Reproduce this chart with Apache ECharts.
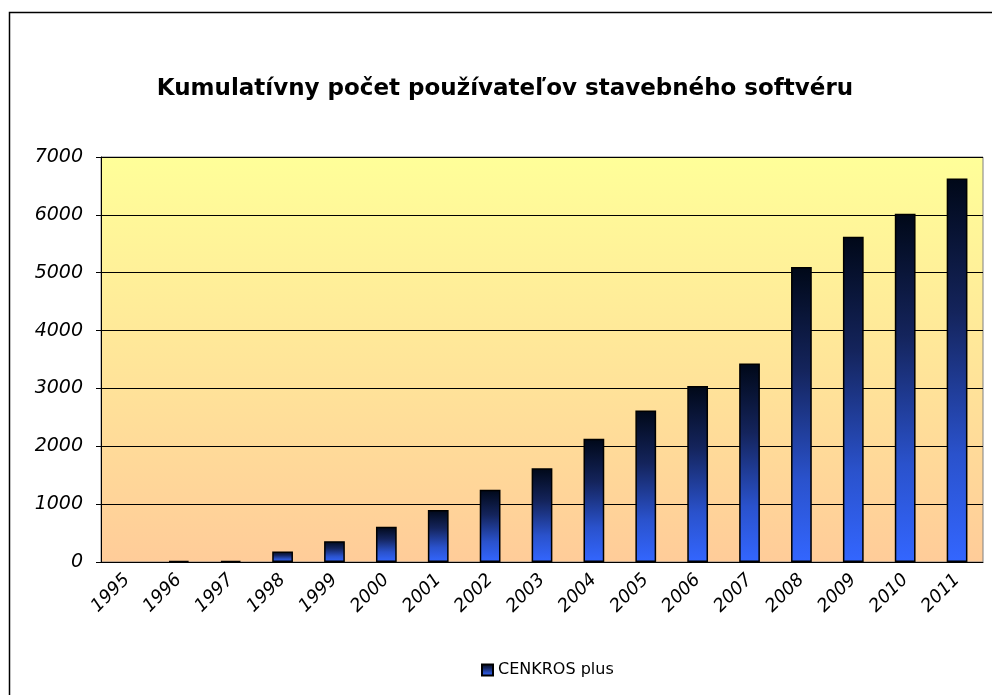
<!DOCTYPE html>
<html>
<head>
<meta charset="utf-8">
<script src="https://cdn.jsdelivr.net/npm/echarts@6/dist/echarts.min.js"></script>
<style>html,body{margin:0;padding:0;background:#fff;}#c{width:992px;height:695px;}</style>
</head>
<body>
<div id="c"></div>
<script>
const titleText = 'Kumulatívny počet používateľov stavebného softvéru';
const seriesName = 'CENKROS plus';
const years = ['1995','1996','1997','1998','1999','2000','2001','2002','2003','2004','2005','2006','2007','2008','2009','2010','2011'];
const users = [0, 20, 20, 180, 360, 610, 900, 1250, 1620, 2130, 2620, 3040, 3430, 5100, 5620, 6020, 6630];
const yTicks = { min: 0, max: 7000, interval: 1000 };

const chart = echarts.init(document.getElementById('c'));
const barGrad = new echarts.graphic.LinearGradient(0, 0, 0, 1, [
  { offset: 0, color: '#000818' },
  { offset: 0.35, color: '#14245c' },
  { offset: 0.72, color: '#2a52cc' },
  { offset: 1, color: '#3366ff' }
]);
chart.setOption({
  animation: false,
  graphic: [{
    type: 'rect', shape: { x: 9.5, y: 12.5, width: 1000, height: 700 },
    style: { fill: 'none', stroke: '#000', lineWidth: 1.5 }, silent: true
  }],
  title: {
    text: titleText, left: 500, top: 73, textAlign: 'center',
    textStyle: { fontFamily: 'DejaVu Sans', fontWeight: 'bold', fontSize: 23, color: '#000' }
  },
  legend: {
    bottom: 12, left: 476, icon: 'rect', itemWidth: 11, itemHeight: 11, itemGap: 4,
    textStyle: { fontFamily: 'DejaVu Sans', fontSize: 16, color: '#000' },
    data: [seriesName]
  },
  grid: {
    left: 101, right: 9, top: 157, bottom: 133, show: true,
    borderColor: '#808080', borderWidth: 1,
    backgroundColor: new echarts.graphic.LinearGradient(0, 0, 0, 1, [
      { offset: 0, color: '#ffff99' },
      { offset: 1, color: '#ffcc99' }
    ])
  },
  xAxis: {
    type: 'category', data: years,
    axisLine: { lineStyle: { color: '#000', width: 1 } },
    axisTick: { length: 6, lineStyle: { color: '#000' } },
    axisLabel: { rotate: 45, margin: 15, fontFamily: 'DejaVu Sans', fontStyle: 'italic', fontSize: 18, color: '#000' }
  },
  yAxis: {
    type: 'value', min: yTicks.min, max: yTicks.max, interval: yTicks.interval,
    axisLine: { show: true, lineStyle: { color: '#000', width: 1 } },
    axisTick: { show: true, length: 5, lineStyle: { color: '#000' } },
    splitLine: { lineStyle: { color: '#000', width: 1 } },
    axisLabel: { margin: 18, fontFamily: 'DejaVu Sans', fontStyle: 'italic', fontSize: 19, color: '#000',
      formatter: v => String(v) }
  },
  series: [{
    name: seriesName, type: 'bar', data: users.map(v => v === 0 ? null : v), barWidth: '40%',
    itemStyle: { color: barGrad, borderColor: '#000', borderWidth: 1.5 }
  }]
});
</script>
</body>
</html>
